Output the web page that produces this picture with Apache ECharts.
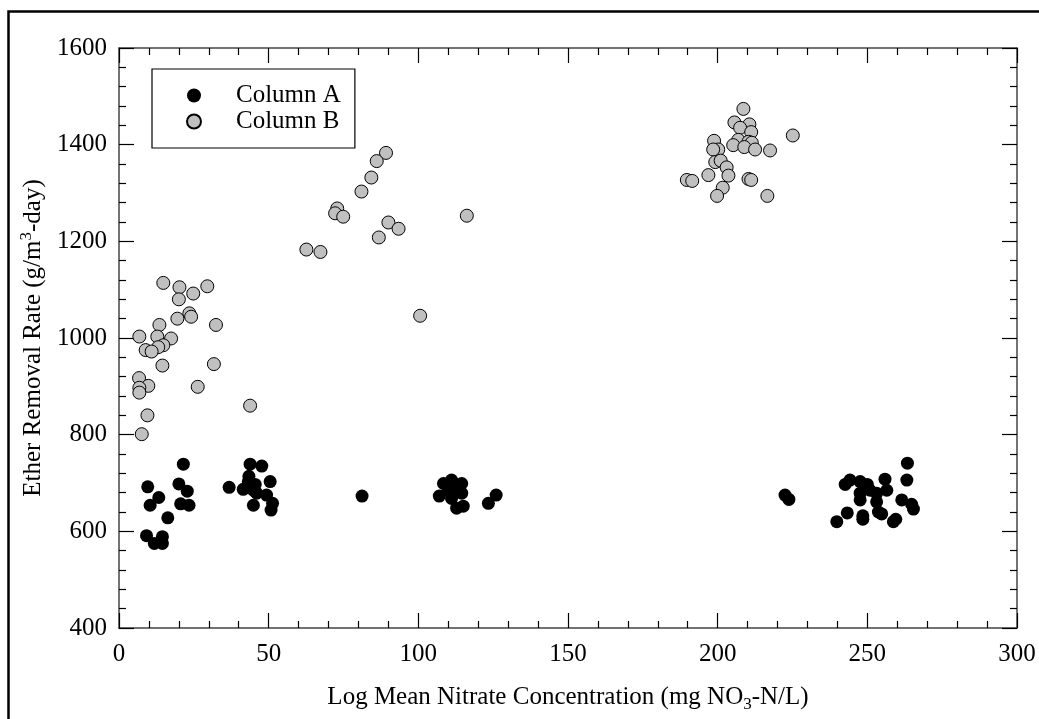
<!DOCTYPE html>
<html>
<head>
<meta charset="utf-8">
<script src="https://cdn.jsdelivr.net/npm/echarts@6/dist/echarts.min.js"></script>
<style>
html,body{margin:0;padding:0;background:#fff;}
#chart{width:1039px;height:719px;}
</style>
</head>
<body>
<div id="chart"></div>
<script>
const seriesNames = ['Column A', 'Column B'];
const xTicks = [0, 50, 100, 150, 200, 250, 300];
const yTicks = [400, 600, 800, 1000, 1200, 1400, 1600];

const columnA = [
  [9.6,692],[10.4,654],[13.3,670],[9.2,591],[11.8,575],[14.5,589],[14.5,575],[16.3,628],[20,698],[21.5,739],[22.8,683],[20.6,657],[23.4,654],
  [36.8,691],[43.8,739],[47.7,735],[43.4,714],[43.2,703],[41.5,687],[44.9,685],[46,679],[50.5,703],[49.3,675],[51.3,658],[44.9,654],[50.8,644],[45.5,697],
  [81.2,673],
  [108.4,699],[111.1,706],[114.5,699],[107,673],[114.5,679],[111.1,668],[112.8,648],[115,652],[110,685],[112,685],[126,675],[123.4,658],
  [222.5,675],[223.8,666],
  [263.4,741],[263.2,706],[242.6,697],[244.2,706],[247.6,703],[250,697],[255.9,708],[256.5,685],[253.1,679],[247.6,679],[247.6,665],[250.9,685],[253.1,661],[261.5,665],[264.8,656],[265.4,646],[254.8,636],[253.7,640],[248.5,632],[248.5,625],[243.3,638],[239.8,620],[258.7,620],[259.5,625]
];

const columnB = [
  [14.8,1114],[20.2,1105],[29.5,1107],[24.8,1092],[20,1080],[23.5,1051],[24.1,1044],[19.5,1040],[32.4,1027],[13.5,1027],[6.8,1003],[12.8,1003],[17.4,999],[14.8,985],[13.1,981],[8.9,975],[10.9,972],[14.5,943],[31.7,946],[6.7,917],[9.8,901],[6.8,897],[6.8,887],[26.3,899],[43.8,860],[9.5,840],[7.6,801],
  [89.2,1383],[86.1,1366],[84.3,1332],[81,1303],[72.9,1268],[72.2,1258],[74.9,1251],[90,1239],[93.4,1226],[86.8,1208],[116.2,1253],[62.6,1183],[67.3,1178],[100.6,1046],
  [208.6,1474],[205.6,1446],[210.6,1442],[207.5,1435],[211.2,1426],[225.1,1419],[206.9,1410],[210.3,1406],[198.8,1408],[205.2,1399],[211.4,1404],[208.9,1395],[212.5,1390],[217.5,1388],[200.2,1390],[198.5,1390],[199.2,1364],[201,1367],[203,1353],[203.6,1336],[196.9,1337],[189.7,1327],[191.5,1325],[210.3,1329],[211.2,1327],[201.7,1311],[199.8,1294],[216.6,1294]
];

const FONT = 'Liberation Serif';
const FS = 25;
const chart = echarts.init(document.getElementById('chart'), null, {renderer: 'canvas'});

function baseAxis(min, max, interval, ticks) {
  return {
    min: min, max: max, interval: interval,
    axisLine: {show: true, onZero: false, lineStyle: {color: '#444', width: 1.5}},
    axisTick: {show: true, inside: true, length: 15, lineStyle: {color: '#000', width: 1.2}},
    minorTick: {show: true, splitNumber: 5, length: 7, lineStyle: {color: '#000', width: 1.2}},
    splitLine: {show: false},
    axisLabel: {show: true, color: '#000', fontFamily: FONT, fontSize: FS,
      customValues: ticks, formatter: v => String(v)}
  };
}

const xMain = Object.assign(baseAxis(0, 300, 50, xTicks), {
  type: 'value', position: 'bottom',
  name: '{a|Log Mean Nitrate Concentration (mg NO}{s|3}{a|-N/L)}',
  nameLocation: 'middle', nameGap: 53,
  nameTextStyle: {rich: {
    a: {fontFamily: FONT, fontSize: FS, color: '#000', lineHeight: 32, verticalAlign: 'middle'},
    s: {fontFamily: FONT, fontSize: 17, color: '#000', lineHeight: 17, verticalAlign: 'bottom'}
  }}
});
xMain.axisLabel.margin = 14;
const xTop = Object.assign(baseAxis(0, 300, 50, xTicks), {type: 'value', position: 'top'});
xTop.axisLabel = {show: false};

const yMain = Object.assign(baseAxis(400, 1600, 200, yTicks), {
  type: 'value', position: 'left',
  name: '{a|Ether Removal Rate (g/m}{s|3}{a|-day)}',
  nameLocation: 'middle', nameGap: 57,
  nameTextStyle: {rich: {
    a: {fontFamily: FONT, fontSize: FS, color: '#000', lineHeight: 32, verticalAlign: 'middle'},
    s: {fontFamily: FONT, fontSize: 17, color: '#000', lineHeight: 17, verticalAlign: 'top'}
  }}
});
yMain.axisLabel.margin = 12;
const yRight = Object.assign(baseAxis(400, 1600, 200, yTicks), {type: 'value', position: 'right'});
yRight.axisLabel = {show: false};

chart.setOption({
  animation: false,
  backgroundColor: '#fff',
  textStyle: {fontFamily: FONT},
  grid: {left: 119, top: 48, right: 22, bottom: 91, containLabel: false},
  graphic: [{
    type: 'rect', silent: true, z: -1,
    shape: {x: 8.5, y: 11.5, width: 1100, height: 800},
    style: {fill: 'none', stroke: '#000', lineWidth: 2.5}
  }],
  legend: {
    orient: 'vertical', left: 152, top: 69,
    padding: [14, 14, 14, 34],
    itemWidth: 14, itemHeight: 14, itemGap: 1,
    borderColor: '#000', borderWidth: 1.2, borderRadius: 0,
    icon: 'circle',
    textStyle: {fontFamily: FONT, fontSize: FS, color: '#000', lineHeight: 25, padding: [0, 0, 0, 30]},
    data: seriesNames
  },
  xAxis: [xMain, xTop],
  yAxis: [yMain, yRight],
  series: [
    {name: seriesNames[0], type: 'scatter', data: columnA, symbol: 'circle', symbolSize: 13,
      itemStyle: {color: '#000', borderColor: '#000', borderWidth: 0, opacity: 1}},
    {name: seriesNames[1], type: 'scatter', data: columnB, symbol: 'circle', symbolSize: 13,
      itemStyle: {color: '#c0c0c0', borderColor: '#000', borderWidth: 1, opacity: 1}}
  ]
});
</script>
</body>
</html>
